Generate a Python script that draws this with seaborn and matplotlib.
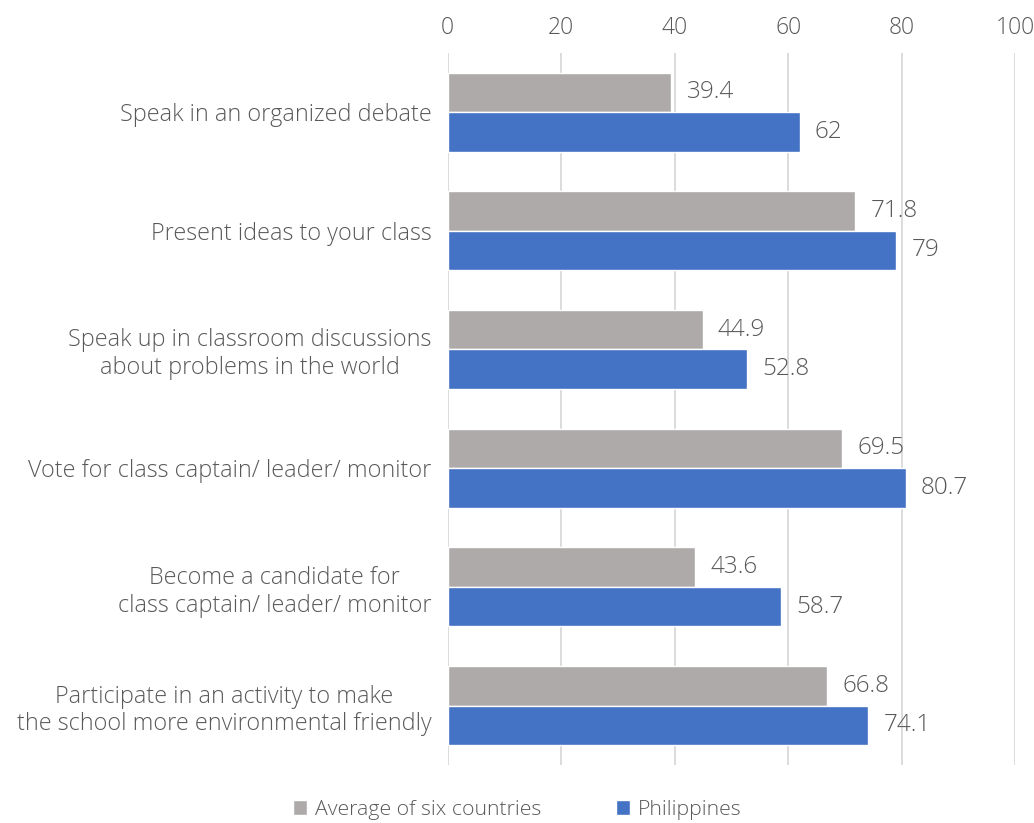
import numpy as np
import pandas as pd
import matplotlib
matplotlib.use("Agg")
import matplotlib.pyplot as plt
import seaborn as sns

categories = [
    "Speak in an organized debate",
    "Present ideas to your class",
    "Speak up in classroom discussions\nabout problems in the world",
    "Vote for class captain/ leader/ monitor",
    "Become a candidate for\nclass captain/ leader/ monitor",
    "Participate in an activity to make\nthe school more environmental friendly",
]
series = ["Average of six countries", "Philippines"]
avg_six = [39.4, 71.8, 44.9, 69.5, 43.6, 66.8]
philippines = [62, 79, 52.8, 80.7, 58.7, 74.1]
palette = ["#AEAAAA", "#4472C4"]

df = pd.DataFrame({
    "category": categories * 2,
    "series": [series[0]] * len(categories) + [series[1]] * len(categories),
    "value": avg_six + philippines,
})

sns.set_style("white")
plt.rcParams['font.family'] = ['Open Sans', 'DejaVu Sans']
text_col = "#595959"

fig = plt.figure(figsize=(10.34, 8.23), dpi=100)
ax = fig.add_axes([0.433, 0.0705, 0.549, 0.8655])

sns.barplot(data=df, y="category", x="value", hue="series", order=categories,
            hue_order=series, palette=palette, width=0.665, orient="h",
            saturation=1, ax=ax, legend=True)

for cont in ax.containers:
    ax.bar_label(cont, labels=[f"{v:g}" for v in cont.datavalues], padding=11,
                 fontsize=17.5, color=text_col, fontweight="light")

ax.set_xlim(0, 100)
ax.set_xticks(np.arange(0, 101, 20))
ax.xaxis.tick_top()
ax.tick_params(axis="x", length=0, pad=9, labelsize=16.5, labelcolor=text_col)
ax.tick_params(axis="y", length=0, pad=11.5, labelsize=16.8, labelcolor=text_col)
for lab in ax.get_yticklabels():
    lab.set_horizontalalignment("right")
    lab.set_multialignment("center")
    lab.set_fontweight("light")
for lab in ax.get_xticklabels():
    lab.set_fontweight("light")
ax.grid(axis="x", color="#D9D9D9", linewidth=1.3)
ax.set_axisbelow(True)
for s in ax.spines.values():
    s.set_visible(False)
ax.set_xlabel("")
ax.set_ylabel("")

handles, labels = ax.get_legend_handles_labels()
ax.get_legend().remove()
fig.legend(handles, labels, loc="lower center", bbox_to_anchor=(0.5, -0.02), ncol=2,
           frameon=False, handlelength=0.7, handleheight=0.7, handletextpad=0.35,
           columnspacing=3.5, prop={"size": 15.3, "weight": "light"},
           labelcolor=text_col)

fig.savefig("out.png", dpi=100)
